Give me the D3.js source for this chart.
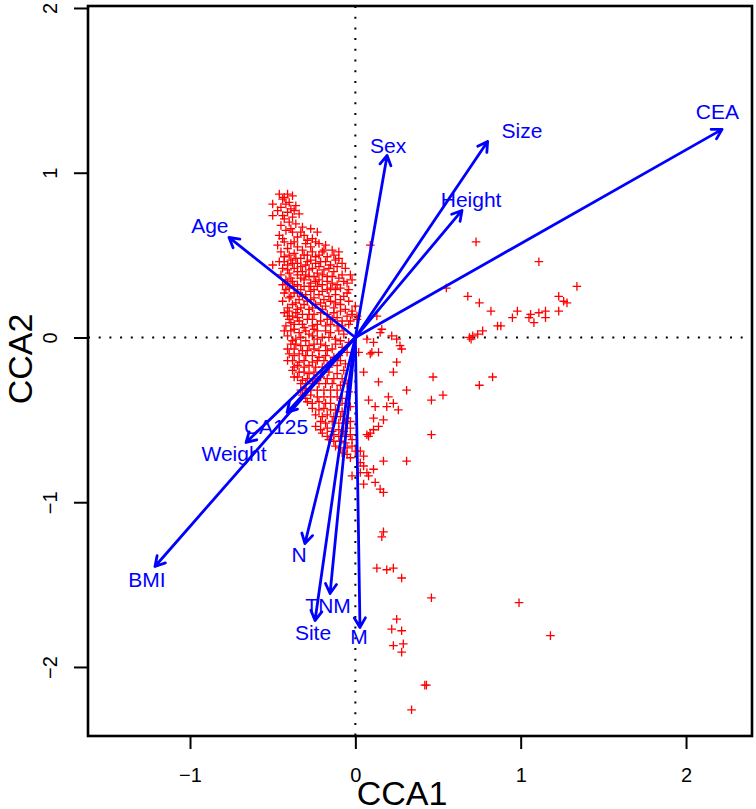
<!DOCTYPE html>
<html><head><meta charset="utf-8">
<script src="https://cdn.jsdelivr.net/npm/d3@7"></script>
<style>body{margin:0;background:#fff}</style>
</head><body><svg id="c" width="756" height="809"></svg>
<script>
// ---- data ----
const xTicks = [-1, 0, 1, 2];
const yTicks = [-2, -1, 0, 1, 2];
const xTitle = "CCA1";
const yTitle = "CCA2";

const arrowNames = ["CEA","Size","Sex","Height","Age","CA125","Weight","BMI","N","TNM","Site","M"];
const arrowX = [2.218, 0.800, 0.192, 0.645, -0.764, -0.413, -0.661, -1.212, -0.305, -0.153, -0.244, 0.028];
const arrowY = [1.263, 1.190, 1.105, 0.771, 0.607, -0.455, -0.637, -1.390, -1.251, -1.554, -1.718, -1.760];
const labelX = [2.190, 1.008, 0.198, 0.700, -0.880, -0.480, -0.734, -1.260, -0.341, -0.165, -0.256, 0.022];
const labelY = [1.372, 1.256, 1.165, 0.835, 0.680, -0.540, -0.704, -1.469, -1.317, -1.624, -1.790, -1.815];

// site scores (CCA1, CCA2)
const sites = [
[-0.46,0.87],[-0.41,0.87],[-0.43,0.85],[-0.38,0.86],
[-0.50,0.81],[-0.42,0.81],[-0.36,0.80],[-0.45,0.79],[-0.39,0.78],
[-0.50,0.74],[-0.41,0.76],[-0.34,0.75],[-0.38,0.73],[-0.43,0.72],
[-0.40,0.70],[-0.36,0.69],[-0.45,0.68],[-0.32,0.67],
[-0.42,0.65],[-0.27,0.66],[-0.38,0.64],[-0.23,0.64],[-0.46,0.62],[-0.31,0.62],[-0.35,0.61],[-0.26,0.60],
[-0.43,0.58],[-0.39,0.57],[-0.30,0.57],[-0.22,0.57],[-0.47,0.56],[-0.35,0.55],[-0.18,0.56],[-0.27,0.55],[-0.41,0.54],[-0.14,0.53],[-0.32,0.53],[-0.20,0.52],[-0.45,0.52],[-0.10,0.52],
[-0.37,0.51],[-0.29,0.50],[-0.43,0.49],[-0.24,0.49],[-0.33,0.48],[-0.17,0.49],[-0.39,0.47],[-0.12,0.47],[-0.27,0.47],[-0.46,0.46],[-0.21,0.46],[-0.35,0.45],[-0.08,0.45],[-0.30,0.44],[-0.41,0.44],[-0.50,0.44],[-0.15,0.44],
[-0.44,0.42],[-0.37,0.42],[-0.26,0.42],[-0.19,0.41],[-0.32,0.40],[-0.06,0.42],[-0.40,0.39],[-0.23,0.39],[-0.13,0.40],[-0.35,0.38],[-0.28,0.37],[-0.45,0.38],[-0.03,0.38],[-0.17,0.37],[-0.10,0.36],
[-0.42,0.35],[-0.31,0.35],[-0.38,0.34],[-0.24,0.34],[-0.02,0.35],[-0.35,0.32],[-0.44,0.32],[-0.20,0.32],[-0.28,0.31],[-0.14,0.33],[-0.05,0.33],[-0.40,0.30],[-0.33,0.29],[-0.25,0.29],[-0.09,0.30],[-0.17,0.29],
[-0.43,0.27],[-0.37,0.27],[-0.30,0.26],[-0.22,0.26],[-0.12,0.26],[-0.07,0.25],[-0.40,0.24],[-0.34,0.23],[-0.27,0.23],[-0.19,0.23],[-0.44,0.22],[-0.15,0.22],
[-0.38,0.20],[-0.31,0.20],[-0.24,0.20],[-0.09,0.20],[-0.41,0.18],[-0.35,0.17],[-0.28,0.17],[-0.20,0.17],[-0.13,0.18],[-0.06,0.17],[-0.43,0.15],[-0.32,0.14],[-0.25,0.14],[-0.17,0.14],[-0.38,0.13],[-0.02,0.14],
[-0.40,0.11],[-0.34,0.10],[-0.29,0.11],[-0.21,0.10],[-0.14,0.11],[-0.08,0.10],[0.01,0.11],[-0.37,0.08],[-0.26,0.07],[-0.42,0.07],[-0.18,0.07],[-0.31,0.06],[-0.11,0.07],[-0.04,0.08],
[-0.39,0.04],[-0.34,0.03],[-0.23,0.04],[-0.15,0.03],[-0.28,0.02],[-0.41,0.01],[-0.20,0.00],[-0.36,-0.01],[-0.07,0.02],[-0.30,-0.02],[-0.12,-0.01],
[-0.39,-0.04],[-0.33,-0.05],[-0.25,-0.04],[-0.18,-0.05],[-0.37,-0.07],[-0.29,-0.08],[-0.22,-0.08],[-0.14,-0.07],[-0.08,-0.06],[-0.40,-0.10],[-0.34,-0.10],[-0.26,-0.11],[-0.18,-0.11],[-0.10,-0.11],
[-0.38,-0.14],[-0.31,-0.14],[-0.23,-0.14],[-0.15,-0.15],[-0.35,-0.17],[-0.28,-0.17],[-0.20,-0.18],[-0.11,-0.17],[-0.38,-0.20],[-0.31,-0.21],[-0.25,-0.21],[-0.16,-0.21],[-0.07,-0.20],
[-0.35,-0.24],[-0.29,-0.25],[-0.21,-0.24],[-0.13,-0.25],[-0.33,-0.28],[-0.26,-0.28],[-0.18,-0.28],[-0.09,-0.29],[-0.30,-0.31],[-0.23,-0.32],[-0.15,-0.32],
[-0.32,-0.35],[-0.27,-0.35],[-0.19,-0.36],[-0.11,-0.36],[-0.29,-0.39],[-0.22,-0.39],[-0.15,-0.40],[-0.06,-0.40],[-0.26,-0.43],[-0.19,-0.43],[-0.12,-0.44],
[-0.24,-0.47],[-0.17,-0.47],[-0.09,-0.48],[-0.21,-0.51],[-0.14,-0.51],[-0.06,-0.52],[-0.24,-0.54],[-0.17,-0.55],[-0.10,-0.56],[-0.03,-0.55],
[-0.20,-0.58],[-0.13,-0.59],[-0.06,-0.60],[-0.16,-0.62],[-0.09,-0.63],[-0.02,-0.62],[-0.12,-0.66],[-0.05,-0.67],[-0.08,-0.70],[0.00,-0.69],[-0.03,-0.73],
[-0.44,0.84],[-0.40,0.82],[-0.47,0.77],[-0.37,0.77],[-0.44,0.74],[-0.39,0.66],[-0.33,0.64],[-0.29,0.59],[-0.24,0.58],[-0.37,0.58],[-0.44,0.60],[-0.31,0.50],[-0.26,0.52],[-0.22,0.50],[-0.19,0.53],[-0.40,0.50],[-0.36,0.48],[-0.13,0.50],[-0.10,0.48],[-0.29,0.46],[-0.24,0.45],[-0.18,0.46],[-0.38,0.45],[-0.43,0.46],[-0.33,0.43],[-0.28,0.41],[-0.22,0.43],[-0.16,0.42],[-0.11,0.43],[-0.41,0.41],[-0.35,0.40],[-0.30,0.38],[-0.25,0.37],[-0.20,0.38],[-0.14,0.37],[-0.08,0.38],[-0.39,0.36],[-0.33,0.36],[-0.27,0.33],[-0.22,0.35],[-0.17,0.34],[-0.11,0.32],[-0.07,0.34],[-0.41,0.33],[-0.37,0.31],[-0.31,0.31],[-0.23,0.31],[-0.15,0.30],[-0.04,0.29],[-0.42,0.29],[-0.35,0.27],[-0.27,0.28],[-0.20,0.28],[-0.12,0.29],[-0.05,0.27],
[-0.39,0.25],[-0.32,0.25],[-0.25,0.24],[-0.16,0.25],[-0.09,0.23],[-0.36,0.21],[-0.29,0.22],[-0.21,0.21],[-0.12,0.21],[-0.04,0.22],[-0.40,0.16],[-0.33,0.18],[-0.26,0.18],[-0.18,0.19],[-0.09,0.16],[-0.36,0.15],[-0.28,0.14],[-0.21,0.15],[-0.13,0.15],[-0.05,0.13],[-0.41,0.13],[-0.35,0.12],[-0.26,0.11],[-0.17,0.11],[-0.11,0.12],[-0.03,0.10],[-0.39,0.09],[-0.32,0.08],[-0.23,0.08],[-0.15,0.08],[-0.08,0.07],[-0.37,0.05],[-0.30,0.04],[-0.25,0.05],[-0.18,0.04],[-0.10,0.04],[-0.43,0.04],[-0.33,0.00],[-0.26,0.01],[-0.16,0.00],[-0.09,-0.02],[-0.38,-0.02],[-0.23,-0.01],[-0.04,-0.03],
[-0.36,-0.04],[-0.28,-0.05],[-0.21,-0.04],[-0.12,-0.04],[-0.41,-0.07],[-0.32,-0.08],[-0.25,-0.07],[-0.17,-0.08],[-0.05,-0.09],[-0.37,-0.11],[-0.30,-0.11],[-0.22,-0.12],[-0.13,-0.12],[-0.41,-0.14],[-0.34,-0.15],[-0.26,-0.15],[-0.19,-0.14],[-0.09,-0.14],[-0.37,-0.18],[-0.31,-0.18],[-0.24,-0.18],[-0.16,-0.18],[-0.06,-0.16],[-0.34,-0.21],[-0.28,-0.22],[-0.20,-0.21],[-0.11,-0.22],[-0.37,-0.24],[-0.32,-0.26],[-0.25,-0.25],[-0.17,-0.25],[-0.08,-0.25],[-0.30,-0.28],[-0.22,-0.28],[-0.14,-0.28],[-0.05,-0.28],[-0.33,-0.32],[-0.27,-0.32],[-0.19,-0.32],[-0.11,-0.32],[-0.04,-0.33],[-0.30,-0.37],[-0.23,-0.36],[-0.15,-0.36],[-0.08,-0.37],[-0.26,-0.40],[-0.18,-0.40],[-0.10,-0.41],[-0.03,-0.42],[-0.22,-0.44],[-0.15,-0.44],[-0.08,-0.45],[-0.20,-0.48],[-0.13,-0.48],[-0.05,-0.49],[-0.18,-0.52],[-0.10,-0.52],[-0.03,-0.51],[-0.21,-0.56],[-0.14,-0.57],[-0.07,-0.57],[-0.17,-0.60],[-0.10,-0.60],[-0.03,-0.59],[-0.13,-0.63],[-0.06,-0.64],[-0.09,-0.67],[-0.02,-0.66],[-0.05,-0.71],
[-0.02,-0.84],[0.05,-0.78],[0.03,-0.82],
[0.09,0.56],[-0.02,0.16],[0.00,0.19],[0.01,0.13],[0.13,0.13],
[0.16,0.05],[0.15,0.03],[0.22,0.01],[0.25,-0.01],[0.27,-0.05],[0.28,-0.07],[0.07,-0.01],[0.11,-0.03],[0.10,-0.09],[0.14,-0.09],[0.09,-0.10],[0.02,-0.09],
[0.25,-0.15],[0.23,-0.21],[0.05,-0.21],[0.14,-0.27],[0.47,-0.24],[0.31,-0.32],[0.20,-0.36],[0.46,-0.38],[0.08,-0.38],[0.12,-0.42],[0.19,-0.42],[0.23,-0.40],[0.26,-0.44],
[0.11,-0.49],[0.17,-0.50],[0.14,-0.54],[0.11,-0.56],[0.08,-0.60],[0.09,-0.58],[0.07,-0.59],[0.46,-0.59],[0.17,-0.75],[0.31,-0.75],[0.03,-0.69],[0.05,-0.72],[0.03,-0.76],
[0.07,-0.82],[0.08,-0.84],[0.11,-0.80],[0.15,-0.92],[0.17,-0.94],[0.05,-0.89],[0.12,-0.88],[0.53,-0.35],
[0.73,0.58],[1.11,0.46],[0.55,0.30],[1.34,0.31],[0.68,0.25],[0.75,0.21],[0.82,0.16],[0.98,0.16],[0.95,0.12],[0.86,0.07],[0.88,0.07],
[0.77,0.04],[0.74,0.02],[0.71,0.01],[0.69,0.00],[0.70,-0.01],[1.06,0.14],[1.05,0.12],[1.08,0.09],[1.11,0.15],[1.15,0.16],[1.15,0.12],
[1.23,0.25],[1.26,0.22],[1.28,0.21],[1.23,0.16],[0.83,-0.24],[0.75,-0.29],
[0.17,-1.18],[0.16,-1.21],[0.13,-1.40],[0.19,-1.41],[0.23,-1.40],[0.28,-1.46],[0.46,-1.58],
[0.25,-1.71],[0.22,-1.77],[0.28,-1.78],[0.23,-1.87],[0.29,-1.86],[0.28,-1.91],
[0.42,-2.11],[0.43,-2.11],[0.34,-2.26],[0.99,-1.61],[1.18,-1.81]
];

// ---- layout ----
const svg = d3.select("#c");
const L = 88, R = 752, T = 6, B = 736;
const x = d3.scaleLinear().domain([-1.617, 2.399]).range([L, R]);
const y = d3.scaleLinear().domain([-2.419, 2.012]).range([B, T]);
const font = "'Liberation Sans', Arial, Helvetica, sans-serif";

// dotted zero lines
svg.append("line").attr("x1", x(0)).attr("x2", x(0)).attr("y1", T).attr("y2", B)
  .attr("stroke", "#000").attr("stroke-width", 2).attr("stroke-dasharray", "2,8.7");
svg.append("line").attr("x1", L).attr("x2", R).attr("y1", y(0)).attr("y2", y(0))
  .attr("stroke", "#000").attr("stroke-width", 2).attr("stroke-dasharray", "2,8.7");

// site points as "+"
const s = 4.3;
svg.append("g").selectAll("path").data(sites).join("path")
  .attr("d", d => `M${x(d[0])-s},${y(d[1])}h${2*s}M${x(d[0])},${y(d[1])-s}v${2*s}`)
  .attr("stroke", "#ff0000").attr("stroke-width", 1.3).attr("fill", "none");

// arrows
const ag = svg.append("g");
arrowNames.forEach((n, i) => {
  const x0 = x(0), y0 = y(0), x1 = x(arrowX[i]), y1 = y(arrowY[i]);
  const ang = Math.atan2(y1 - y0, x1 - x0);
  const hl = 11, ha = Math.PI / 6;
  const p1 = [x1 - hl * Math.cos(ang - ha), y1 - hl * Math.sin(ang - ha)];
  const p2 = [x1 - hl * Math.cos(ang + ha), y1 - hl * Math.sin(ang + ha)];
  ag.append("path")
    .attr("d", `M${x0},${y0}L${x1},${y1}M${p1[0]},${p1[1]}L${x1},${y1}L${p2[0]},${p2[1]}`)
    .attr("stroke", "#0000ff").attr("stroke-width", 2.8).attr("fill", "none")
    .attr("stroke-linecap", "round").attr("stroke-linejoin", "round");
  ag.append("text").attr("x", x(labelX[i])).attr("y", y(labelY[i]))
    .attr("text-anchor", "middle").attr("dy", "0.36em")
    .attr("font-family", font).attr("font-size", 21).attr("fill", "#0000ff").text(n);
});

// axes
const xa = svg.append("g").attr("transform", `translate(0,${B})`)
  .call(d3.axisBottom(x).tickValues(xTicks).tickSize(13).tickPadding(19).tickSizeOuter(0)
    .tickFormat(d => d < 0 ? "\u2212" + Math.abs(d) : d));
xa.select(".domain").remove();
xa.selectAll("line").attr("stroke-width", 2);
xa.selectAll("text").attr("font-size", 20).attr("font-family", font).attr("fill", "#000");

const ya = svg.append("g").attr("transform", `translate(${L},0)`)
  .call(d3.axisLeft(y).tickValues(yTicks).tickSize(14).tickSizeOuter(0)
    .tickFormat(d => d < 0 ? "\u2212" + Math.abs(d) : d));
ya.select(".domain").remove();
ya.selectAll("line").attr("stroke-width", 2);
ya.selectAll("text").attr("font-size", 20).attr("font-family", font).attr("fill", "#000")
  .attr("x", 0).attr("y", -31).attr("dy", 0).attr("text-anchor", "middle")
  .attr("transform", "rotate(-90)");

// box
svg.append("rect").attr("x", L).attr("y", T).attr("width", R - L).attr("height", B - T)
  .attr("fill", "none").attr("stroke", "#000").attr("stroke-width", 2.6);

// titles
svg.append("text").attr("x", 402).attr("y", 805).attr("text-anchor", "middle")
  .attr("font-family", font).attr("font-size", 34).text(xTitle);
svg.append("text").attr("transform", "translate(32,359) rotate(-90)").attr("text-anchor", "middle")
  .attr("font-family", font).attr("font-size", 34).text(yTitle);
</script></body></html>
